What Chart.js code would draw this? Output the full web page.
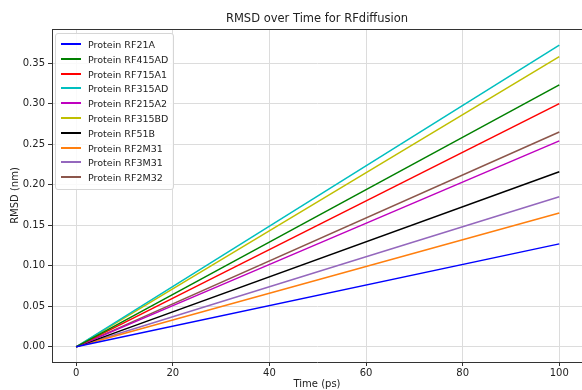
<!DOCTYPE html>
<html>
<head>
<meta charset="utf-8">
<script src="https://cdn.jsdelivr.net/npm/chart.js@4.4.1/dist/chart.umd.min.js"></script>
<style>
    html, body { margin: 0; padding: 0; background: #fff; overflow: hidden; width: 582px; height: 390px; }
    #wrap { position: absolute; left: 0; top: 0; width: 582px; height: 390px; }
    #legend {
        position: absolute; left: 55px; top: 33px; width: 117px; padding: 4px 0 3px 0;
        background: rgba(255,255,255,0.85); border: 1px solid #d6d6d6; border-radius: 3px;
        font-family: "DejaVu Sans", sans-serif; font-size: 9.5px; color: #222;
    }
    #legend div { height: 14.8px; line-height: 14.8px; white-space: nowrap; }
    #legend span.swatch { display: inline-block; width: 20px; height: 2px; margin: 0 7px 3px 5px; vertical-align: middle; }
</style>
</head>
<body>
<div id="wrap"><canvas id="myChart" width="582" height="390"></canvas></div>
<div id="legend"></div>
<script>
const proteins = ['Protein RF21A', 'Protein RF415AD', 'Protein RF715A1', 'Protein RF315AD', 'Protein RF215A2',
    'Protein RF315BD', 'Protein RF51B', 'Protein RF2M31', 'Protein RF3M31', 'Protein RF2M32'];
const timePoints = [0, 100];
const startRmsd = [0, 0, 0, 0, 0, 0, 0, 0, 0, 0];
const endRmsd = [0.127, 0.323, 0.300, 0.372, 0.254, 0.358, 0.216, 0.165, 0.185, 0.265];
const colors = ['#0000ff', '#008000', '#ff0000', '#00bfbf', '#bf00bf', '#bfbf00', '#000000', '#ff7f0e', '#9467bd', '#8c564b'];
const xTicks = [0, 20, 40, 60, 80, 100];
const yTicks = [0, 0.05, 0.10, 0.15, 0.20, 0.25, 0.30, 0.35];
const chartTitle = 'RMSD over Time for RFdiffusion';

const datasets = proteins.map((name, i) => ({
    label: name,
    data: [
        { x: timePoints[0], y: startRmsd[i] },
        { x: timePoints[1], y: endRmsd[i] }
    ],
    borderColor: colors[i],
    backgroundColor: colors[i],
    borderWidth: 1.5,
    pointRadius: 0,
    fill: false
}));

// top spine + title centred over the axes (like matplotlib)
const axesDecor = {
    id: 'axesDecor',
    afterDraw(chart) {
        const a = chart.chartArea;
        const ctx = chart.ctx;
        ctx.save();
        ctx.strokeStyle = '#333';
        ctx.lineWidth = 1;
        ctx.beginPath();
        ctx.moveTo(a.left, a.top + 0.5);
        ctx.lineTo(a.right, a.top + 0.5);
        ctx.stroke();
        ctx.fillStyle = '#222';
        ctx.font = '11.5px "DejaVu Sans", sans-serif';
        ctx.textAlign = 'center';
        ctx.textBaseline = 'alphabetic';
        ctx.fillText(chartTitle, (a.left + a.right) / 2, 22);
        ctx.restore();
    }
};

Chart.defaults.font.family = '"DejaVu Sans", sans-serif';
Chart.defaults.color = '#222';

const ctx = document.getElementById('myChart').getContext('2d');
new Chart(ctx, {
    type: 'line',
    data: { datasets: datasets },
    plugins: [axesDecor],
    options: {
        responsive: false,
        animation: false,
        layout: { padding: { left: 0, right: 0, top: 29, bottom: 0 } },
        plugins: {
            legend: { display: false },
            tooltip: { enabled: false },
            title: { display: false }
        },
        scales: {
            x: {
                type: 'linear',
                min: -5,
                max: 104.7,
                afterBuildTicks: s => { s.ticks = xTicks.map(v => ({ value: v })); },
                afterFit: s => { s.height = 28; },
                ticks: { font: { size: 10 }, padding: 1, maxRotation: 0 },
                grid: { color: '#dcdcdc', tickColor: '#333', tickLength: 4 },
                border: { color: '#333' },
                title: { display: true, text: 'Time (ps)', font: { size: 10 }, padding: { top: 0, bottom: 0 } }
            },
            y: {
                type: 'linear',
                min: -0.0187,
                max: 0.392,
                afterBuildTicks: s => { s.ticks = yTicks.map(v => ({ value: v })); },
                afterFit: s => { s.width = 52; },
                ticks: { font: { size: 10 }, padding: 3, callback: v => v.toFixed(2) },
                grid: { color: '#dcdcdc', tickColor: '#333', tickLength: 4 },
                border: { color: '#333' },
                title: { display: true, text: 'RMSD (nm)', font: { size: 10 }, padding: { top: 9, bottom: 0 } }
            }
        }
    }
});

const legend = document.getElementById('legend');
proteins.forEach((name, i) => {
    const row = document.createElement('div');
    row.innerHTML = '<span class="swatch" style="background:' + colors[i] + '"></span>' + name;
    legend.appendChild(row);
});
</script>
</body>
</html>
